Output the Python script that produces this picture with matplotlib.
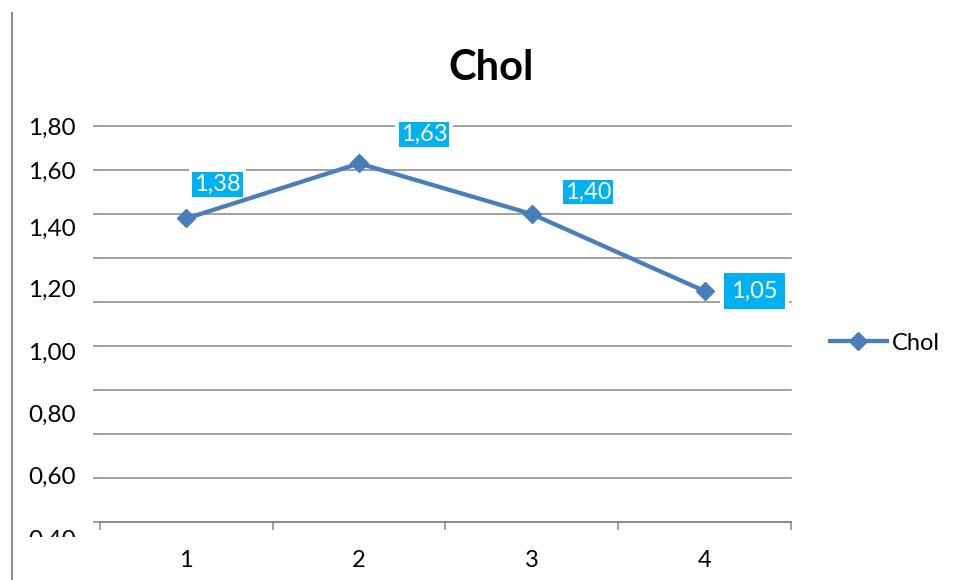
import matplotlib
matplotlib.use("Agg")
import matplotlib.pyplot as plt
from matplotlib.lines import Line2D
from matplotlib.transforms import Bbox, TransformedBbox, blended_transform_factory

plt.rcParams["font.family"] = ["Lato", "DejaVu Sans"]

# Series data
categories = ["1", "2", "3", "4"]
chol = [1.38, 1.63, 1.40, 1.05]
series_name = "Chol"

# Value-axis labels
ytick_values = [1.80, 1.60, 1.40, 1.20, 1.00, 0.80, 0.60, 0.40]

# Layout / style settings
ytick_label_y = [1.791, 1.589, 1.330, 1.053, 0.766, 0.486, 0.205, -0.080]
label_offsets = [(31, 34), (65, 29), (56, 22), (50, 0)]   # pixels from point
label_pads = [0.08, 0.08, 0.08, 0.32]

LINE_BLUE = "#4A7EBB"
LABEL_CYAN = "#00B0F0"
GRID_GRAY = "#878787"

W, H = 957, 580
fig = plt.figure(figsize=(W / 100, H / 100), dpi=100)
ax = fig.add_axes([100 / W, 57.7 / H, 691 / W, 396.3 / H])

x = list(range(len(categories)))
ax.set_xlim(-0.5, len(categories) - 0.5)
ax.set_ylim(0, 1.8)

# Horizontal gridlines (drawn unclipped so the top one is complete)
grid_levels = [round(0.2 * i, 1) for i in range(10)]
for g in grid_levels:
    ax.axhline(g, color=GRID_GRAY, lw=1.1, zorder=1, clip_on=False)

# Series line with diamond markers
ax.plot(x, chol, color=LINE_BLUE, lw=3.1, marker="D", markersize=9.2,
        markeredgecolor=LINE_BLUE, zorder=5, clip_on=False, label=series_name)

# Data labels
for xi, v, (dx, dy), pad in zip(x, chol, label_offsets, label_pads):
    txt = f"{v:.2f}".replace(".", ",")
    ax.annotate(txt, (xi, v), xytext=(dx, dy), textcoords="offset pixels",
                ha="center", va="center", fontsize=17, color="white",
                bbox=dict(boxstyle=f"square,pad={pad + 0.15}", fc="white", ec="none"),
                zorder=3)
    ax.annotate(txt, (xi, v), xytext=(dx, dy), textcoords="offset pixels",
                ha="center", va="center", fontsize=17, color="white",
                bbox=dict(boxstyle=f"square,pad={pad}", fc=LABEL_CYAN, ec="none"),
                zorder=6)

# Spines
for s in ("top", "right", "left"):
    ax.spines[s].set_visible(False)
ax.spines["bottom"].set_color(GRID_GRAY)
ax.spines["bottom"].set_linewidth(1.1)

# Value axis: outward tick marks, labels drawn as text
ax.set_yticks(grid_levels)
ax.tick_params(axis="y", which="major", direction="out", length=5,
               width=1.1, color=GRID_GRAY, labelleft=False)

ytrans = blended_transform_factory(ax.transAxes, ax.transData)
clip = TransformedBbox(Bbox([[-0.2, -0.069], [0.0, 2.2]]), ytrans)
for val, yp in zip(ytick_values, ytick_label_y):
    t = ax.text(-0.035, yp, f"{val:.2f}".replace(".", ","), transform=ytrans,
                ha="right", va="center", fontsize=17.5, color="black",
                clip_on=True)
    t.set_clip_box(clip)

# Category axis: boundary ticks, labels centred in each slot
ax.set_xticks([i - 0.5 for i in range(len(categories) + 1)])
ax.set_xticklabels([])
ax.tick_params(axis="x", which="major", direction="out", length=5.5,
               width=1.1, color=GRID_GRAY)
ax.set_xticks(x, minor=True)
ax.set_xticklabels(categories, minor=True, fontsize=17)
ax.tick_params(axis="x", which="minor", length=0, pad=20)

# Title
fig.text(491 / W, 1 - 68 / H, "Chol", ha="center", va="center",
         fontsize=30, fontweight="bold")

# Legend
leg = ax.legend(loc="center left", bbox_to_anchor=(830 / W, 1 - 343 / H),
                bbox_transform=fig.transFigure, frameon=False, fontsize=17,
                handlelength=2.4, handletextpad=0.2, borderpad=0,
                borderaxespad=0)

# Left frame line
fig.add_artist(Line2D([11.5 / W, 11.5 / W], [0, 1 - 13 / H],
                      transform=fig.transFigure, color="#8C8C8C", lw=1.5))

fig.savefig("out.png", dpi=100)
